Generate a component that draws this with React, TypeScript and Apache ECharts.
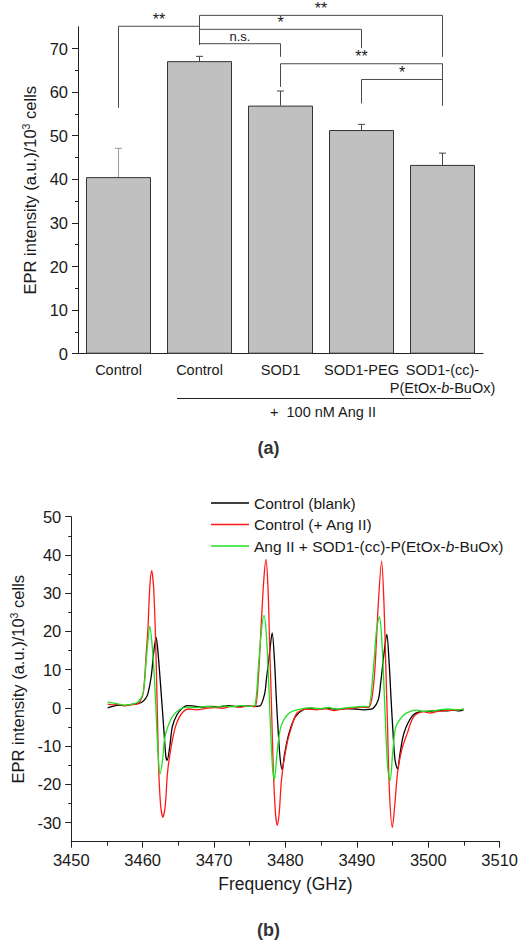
import React, { useEffect, useRef } from "react";
import * as echarts from "echarts";

const FONT = '"Liberation Sans", Arial, Helvetica, sans-serif';
const TXT = "#1a1a1a";

// ---------- Panel (a) data ----------
const categories = ["Control", "Control", "SOD1", "SOD1-PEG", "SOD1-(cc)-\nP(EtOx-b-BuOx)"];
const meanValues = [40.5, 67.1, 56.9, 51.3, 43.3];
const errorValues = [6.6, 1.1, 3.35, 1.3, 2.7];
const yTicksA = [0, 10, 20, 30, 40, 50, 60, 70];
const yMinorTicksA = [5, 15, 25, 35, 45, 55, 65];

// significance brackets (category index from/to, level, leg bottoms, label)
const bracketFrom = [0, 1, 1, 1, 2, 3];
const bracketTo = [1, 4, 3, 2, 4, 4];
const bracketLevel = [75.1, 77.6, 74.4, 71.1, 66.5, 62.9];
const bracketLegFrom = [56.4, 70.8, 70.8, 70.8, 61.2, 57.4];
const bracketLegTo = [70.8, 68.1, 70.1, 68.1, 56.9, 56.9];
const bracketLabels = ["**", "**", "*", "n.s.", "**", "*"];

// ---------- Panel (b) data ----------
const seriesNames = [
  "Control (blank)",
  "Control (+ Ang II)",
  "Ang II + SOD1-(cc)-P(EtOx-b-BuOx)",
];
const xTicksB = [3450, 3460, 3470, 3480, 3490, 3500, 3510];
const yTicksB = [-30, -20, -10, 0, 10, 20, 30, 40, 50];
const yMinorTicksB = [-25, -15, -5, 5, 15, 25, 35, 45];

const blankSpectrum = [
  [3455.1, 0.0], [3455.8, 0.4], [3456.6, 0.7], [3457.5, 0.6], [3458.4, 0.9], [3459.2, 1.1],
  [3459.85, 1.4], [3460.4, 2.4], [3460.75, 3.8], [3461.2, 8.2], [3461.53, 14.2], [3461.89, 18.4],
  [3462.1, 15.5], [3462.35, 9.9], [3462.7, 1.2], [3463.0, -6.5], [3463.25, -12.7], [3463.43, -13.7],
  [3463.8, -10.1], [3464.16, -4.9], [3464.8, -1.8], [3465.5, -0.2], [3466.2, 0.6], [3467.0, 0.5],
  [3468.2, 0.2], [3469.5, 0.4], [3470.8, 0.3], [3472.0, 0.6], [3473.3, 0.3], [3474.5, 0.5],
  [3475.6, 0.4], [3476.41, 0.5], [3477.1, 3.8], [3477.32, 7.3], [3477.77, 14.2], [3478.14, 19.6],
  [3478.46, 12.5], [3478.73, 2.1], [3479.0, -6.6], [3479.27, -13.5], [3479.54, -16.1], [3479.9, -11.8],
  [3480.5, -6.6], [3481.4, -2.3], [3482.5, -0.5], [3483.6, -0.1], [3484.8, -0.3], [3486.0, -0.1],
  [3487.3, -0.4], [3488.5, -0.2], [3489.8, -0.3], [3491.0, -0.5], [3491.7, -0.4], [3492.3, -0.1],
  [3493.0, 2.1], [3493.33, 6.4], [3493.8, 14.2], [3494.2, 19.2], [3494.5, 12.5], [3494.8, 2.1],
  [3495.07, -6.6], [3495.34, -13.5], [3495.7, -16.0], [3496.06, -11.8], [3496.6, -6.6], [3497.7, -2.3],
  [3498.9, -1.0], [3500.0, -0.9], [3501.2, -0.7], [3502.4, -0.8], [3503.5, -0.6], [3504.4, -0.8],
  [3505.0, -0.4],
];

const angSpectrum = [
  [3455.1, 1.0], [3455.8, 0.8], [3456.6, 0.9], [3457.5, 0.6], [3458.4, 0.8], [3459.2, 1.0],
  [3459.6, 1.5], [3460.1, 4.0], [3460.5, 14.2], [3460.75, 21.2], [3461.0, 31.6], [3461.26, 35.9],
  [3461.53, 31.6], [3461.8, 18.6], [3462.03, 1.2], [3462.25, -16.1], [3462.53, -25.7], [3462.84, -28.6],
  [3463.16, -25.7], [3463.48, -17.0], [3463.93, -10.9], [3464.6, -4.9], [3465.5, -1.4], [3466.5, -0.3],
  [3467.5, -0.5], [3468.7, -0.2], [3470.0, 0.1], [3471.2, -0.1], [3472.4, 0.4], [3473.6, 0.2],
  [3474.8, 0.5], [3475.73, 0.3], [3476.18, 7.3], [3476.64, 22.9], [3476.96, 33.3], [3477.27, 38.8],
  [3477.55, 31.6], [3477.82, 14.2], [3478.05, 0.3], [3478.3, -16.1], [3478.6, -27.4], [3478.86, -30.7],
  [3479.13, -27.4], [3479.45, -18.75], [3480.05, -10.9], [3480.73, -5.7], [3481.6, -1.4], [3483.0, -0.3],
  [3484.3, -0.5], [3485.6, -0.2], [3486.8, -0.7], [3488.0, -0.3], [3489.3, -0.1], [3490.5, 0.2],
  [3491.6, 0.1], [3492.07, 2.1], [3492.52, 9.9], [3492.98, 26.4], [3493.47, 38.4], [3493.8, 27.3],
  [3494.07, 9.9], [3494.3, -4.9], [3494.57, -22.2], [3494.97, -31.3], [3495.34, -24.8], [3495.7, -17.0],
  [3496.3, -10.9], [3497.07, -6.6], [3497.97, -2.3], [3499.3, -1.0], [3500.3, -1.3], [3501.3, -0.9],
  [3502.4, -0.7], [3503.6, -0.6], [3505.0, -0.4],
];

const sodSpectrum = [
  [3455.1, 1.6], [3455.8, 1.3], [3456.6, 1.0], [3457.5, 0.7], [3458.4, 0.9], [3459.4, 1.6],
  [3460.07, 3.9], [3460.5, 12.5], [3460.75, 17.7], [3460.99, 21.4], [3461.35, 16.0], [3461.66, 7.3],
  [3461.89, -1.4], [3462.1, -10.1], [3462.43, -17.3], [3462.8, -13.5], [3463.0, -9.2], [3463.25, -6.5],
  [3464.16, -2.3], [3465.3, -0.3], [3466.4, 0.2], [3467.6, 0.1], [3468.8, 0.4], [3470.0, 0.2],
  [3471.3, 0.5], [3472.5, 0.3], [3473.7, 0.6], [3474.9, 0.4], [3475.73, 0.8], [3476.18, 9.9],
  [3476.64, 20.3], [3477.0, 24.2], [3477.32, 19.4], [3477.64, 7.3], [3477.9, -4.9], [3478.18, -15.3],
  [3478.46, -18.75], [3478.82, -11.8], [3479.37, -4.9], [3480.5, -1.4], [3482.1, -0.3], [3483.4, 0.0],
  [3484.7, -0.2], [3486.0, 0.1], [3487.2, -0.3], [3488.4, 0.0], [3489.6, 0.2], [3490.8, 0.4],
  [3491.6, 0.3], [3492.3, 9.9], [3492.75, 20.3], [3493.16, 23.8], [3493.47, 18.6], [3493.8, 5.6],
  [3494.07, -6.6], [3494.34, -16.1], [3494.66, -19.0], [3495.02, -11.8], [3495.47, -4.9], [3496.6, -1.8],
  [3497.5, -0.9], [3498.3, -0.6], [3499.4, -0.9], [3500.5, -0.8], [3501.6, -0.5], [3502.8, -0.3],
  [3504.0, -0.5], [3505.0, -0.3],
];

const italicB = (s: string) => s.replace("-b-", "-{i|b}-");

export default function App() {
  const ref = useRef<HTMLDivElement>(null);

  useEffect(() => {
    if (!ref.current) return;
    const chart = echarts.init(ref.current, null, { renderer: "svg" });

    const baseText = { fontFamily: FONT, color: TXT };
    const yNameRich = {
      a: { ...baseText, fontSize: 16.5, lineHeight: 20 },
      s: { ...baseText, fontSize: 10.5, lineHeight: 12, verticalAlign: "top" },
    };
    const yName = "{a|EPR intensity (a.u.)/10}{s|3}{a| cells}";

    const errorData = meanValues.map((v, i) => [i, v, errorValues[i]]);
    const bracketData = bracketFrom.map((f, i) => [
      f, bracketTo[i], bracketLevel[i], bracketLegFrom[i], bracketLegTo[i],
    ]);

    const option: any = {
      animation: false,
      backgroundColor: "#ffffff",
      textStyle: { fontFamily: FONT },
      grid: [
        { left: 78, right: 38, top: 26.7, height: 327 },
        { left: 61, right: 19.3, top: 516.7, height: 325 },
      ],
      legend: {
        orient: "vertical",
        left: 206,
        top: 490,
        itemWidth: 38,
        itemHeight: 1.6,
        itemGap: 5.5,
        icon: "rect",
        data: seriesNames,
        formatter: (n: string) => italicB(n),
        textStyle: {
          ...baseText,
          fontSize: 15.5,
          lineHeight: 16,
          rich: { i: { ...baseText, fontSize: 15.5, fontStyle: "italic", lineHeight: 16 } },
        },
      },
      xAxis: [
        {
          type: "category",
          gridIndex: 0,
          data: categories,
          axisLine: { lineStyle: { color: "#222", width: 1 } },
          axisTick: { show: false },
          axisLabel: {
            interval: 0,
            margin: 7,
            ...baseText,
            fontSize: 14.5,
            lineHeight: 18,
            formatter: (v: string) => italicB(v),
            rich: { i: { ...baseText, fontSize: 14.5, fontStyle: "italic", lineHeight: 18 } },
          },
        },
        {
          type: "value",
          gridIndex: 1,
          min: 3450,
          max: 3510,
          interval: 10,
          name: "Frequency (GHz)",
          nameLocation: "middle",
          nameGap: 33,
          nameTextStyle: { ...baseText, fontSize: 17.5 },
          splitLine: { show: false },
          axisLine: { onZero: false, lineStyle: { color: "#222", width: 1 } },
          axisTick: { show: true, length: 6, lineStyle: { color: "#222" } },
          minorTick: { show: true, splitNumber: 2, length: 4, lineStyle: { color: "#222" } },
          axisLabel: {
            ...baseText,
            fontSize: 16.5,
            margin: 10,
            customValues: xTicksB,
            formatter: (v: number) => String(v),
          },
        },
      ],
      yAxis: [
        {
          type: "value",
          gridIndex: 0,
          position: "left",
          min: 0,
          max: 75,
          name: yName,
          nameLocation: "middle",
          nameGap: 38,
          nameTextStyle: { ...baseText, fontSize: 16.5, rich: yNameRich },
          splitLine: { show: false },
          axisLine: { show: true, lineStyle: { color: "#222", width: 1 } },
          axisTick: { show: true, length: 6, customValues: yTicksA, lineStyle: { color: "#222" } },
          axisLabel: { ...baseText, fontSize: 16.5, margin: 10, customValues: yTicksA },
        },
        {
          type: "value",
          gridIndex: 0,
          position: "left",
          offset: 0,
          min: 0,
          max: 75,
          splitLine: { show: false },
          axisLine: { show: false },
          axisLabel: { show: false },
          axisTick: { show: true, length: 3, customValues: yMinorTicksA, lineStyle: { color: "#222" } },
        },
        {
          type: "value",
          gridIndex: 1,
          position: "left",
          min: -35,
          max: 50,
          name: yName,
          nameLocation: "middle",
          nameGap: 41,
          nameTextStyle: { ...baseText, fontSize: 16.5, rich: yNameRich },
          splitLine: { show: false },
          axisLine: { show: true, onZero: false, lineStyle: { color: "#222", width: 1 } },
          axisTick: { show: true, length: 6, customValues: yTicksB, lineStyle: { color: "#222" } },
          axisLabel: { ...baseText, fontSize: 16.5, margin: 10, customValues: yTicksB },
        },
        {
          type: "value",
          gridIndex: 1,
          position: "left",
          offset: 0,
          min: -35,
          max: 50,
          splitLine: { show: false },
          axisLine: { show: false, onZero: false },
          axisLabel: { show: false },
          axisTick: { show: true, length: 3, customValues: yMinorTicksB, lineStyle: { color: "#222" } },
        },
      ],
      series: [
        {
          type: "bar",
          xAxisIndex: 0,
          yAxisIndex: 0,
          data: meanValues,
          barWidth: 65,
          itemStyle: { color: "#c0c0c0", borderColor: "#333", borderWidth: 1 },
        },
        {
          type: "custom",
          xAxisIndex: 0,
          yAxisIndex: 0,
          clip: false,
          data: errorData,
          encode: { x: 0, y: [1, 2] },
          renderItem: (params: any, api: any) => {
            const i = api.value(0);
            const v = api.value(1);
            const e = api.value(2);
            const p0 = api.coord([i, v]);
            const p1 = api.coord([i, v + e]);
            const col = params.dataIndex === 0 ? "#9a9a9a" : "#444";
            return {
              type: "group",
              children: [
                { type: "line", shape: { x1: p0[0], y1: p0[1], x2: p1[0], y2: p1[1] }, style: { stroke: col, lineWidth: 1 } },
                { type: "line", shape: { x1: p1[0] - 3.5, y1: p1[1], x2: p1[0] + 3.5, y2: p1[1] }, style: { stroke: col, lineWidth: 1 } },
              ],
            };
          },
        },
        {
          type: "custom",
          xAxisIndex: 0,
          yAxisIndex: 0,
          clip: false,
          data: bracketData,
          encode: { x: [0, 1], y: [2, 3, 4] },
          renderItem: (params: any, api: any) => {
            const a = api.value(0);
            const b = api.value(1);
            const lv = api.value(2);
            const b1 = api.coord([a, api.value(3)]);
            const p1 = api.coord([a, lv]);
            const p2 = api.coord([b, lv]);
            const b2 = api.coord([b, api.value(4)]);
            const label = bracketLabels[params.dataIndex];
            const isNs = label === "n.s.";
            return {
              type: "group",
              children: [
                {
                  type: "polyline",
                  shape: { points: [b1, p1, p2, b2] },
                  style: { stroke: "#4a4a4a", lineWidth: 1, fill: "none" },
                },
                {
                  type: "text",
                  x: (p1[0] + p2[0]) / 2,
                  y: p1[1] - (isNs ? 1 : -1),
                  style: {
                    text: label,
                    fontFamily: FONT,
                    fontSize: isNs ? 13 : 16,
                    fill: TXT,
                    align: "center",
                    verticalAlign: "bottom",
                  },
                },
              ],
            };
          },
        },
        {
          type: "line",
          name: seriesNames[0],
          xAxisIndex: 1,
          yAxisIndex: 2,
          data: blankSpectrum,
          showSymbol: false,
          symbol: "none",
          smooth: 0.3,
          lineStyle: { color: "#000000", width: 1.3 },
          itemStyle: { color: "#000000" },
        },
        {
          type: "line",
          name: seriesNames[1],
          xAxisIndex: 1,
          yAxisIndex: 2,
          data: angSpectrum,
          showSymbol: false,
          symbol: "none",
          smooth: 0.3,
          lineStyle: { color: "#ff1a1a", width: 1.3 },
          itemStyle: { color: "#ff1a1a" },
        },
        {
          type: "line",
          name: seriesNames[2],
          xAxisIndex: 1,
          yAxisIndex: 2,
          data: sodSpectrum,
          showSymbol: false,
          symbol: "none",
          smooth: 0.3,
          lineStyle: { color: "#22e022", width: 1.3 },
          itemStyle: { color: "#22e022" },
        },
      ],
      graphic: [
        {
          type: "line",
          shape: { x1: 177, y1: 398.5, x2: 471, y2: 398.5 },
          style: { stroke: "#222", lineWidth: 1 },
        },
        {
          type: "text",
          x: 323,
          y: 412,
          style: { text: "+  100 nM Ang II", fontFamily: FONT, fontSize: 14.5, fill: TXT, align: "center", verticalAlign: "middle" },
        },
        {
          type: "text",
          x: 268.5,
          y: 448,
          style: { text: "(a)", fontFamily: FONT, fontSize: 18, fontWeight: "bold", fill: "#333", align: "center", verticalAlign: "middle" },
        },
        {
          type: "text",
          x: 268.5,
          y: 930,
          style: { text: "(b)", fontFamily: FONT, fontSize: 18, fontWeight: "bold", fill: "#333", align: "center", verticalAlign: "middle" },
        },
      ],
    };

    chart.setOption(option);
    return () => chart.dispose();
  }, []);

  return (
    <div
      ref={ref}
      style={{ position: "absolute", left: 0, top: 0, width: 521, height: 942, background: "#fff" }}
    />
  );
}
